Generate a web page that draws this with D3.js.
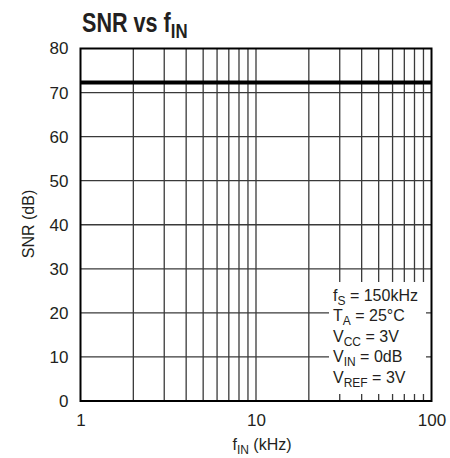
<!DOCTYPE html>
<html>
<head>
<meta charset="utf-8">
<script src="https://cdn.jsdelivr.net/npm/d3@7"></script>
<style>
  html, body { margin: 0; padding: 0; background: #fff; }
  svg { display: block; }
  text { font-family: "Liberation Sans", Arial, sans-serif; fill: #231f20; }
</style>
</head>
<body>
<svg id="chart" width="450" height="458"></svg>
<script>
// ---- data ----
const fIn = [1, 100];              // kHz
const snr = [72.3, 72.3];          // dB
const xTickValues = [1, 10, 100];
const xTickLabels = ["1", "10", "100"];
const yTickValues = [0, 10, 20, 30, 40, 50, 60, 70, 80];
const xMinorGrid = [2, 3, 4, 5, 6, 7, 8, 9, 20, 30, 40, 50, 60, 70, 80, 90];
const notes = [
  [["f", ""], ["S", "sub"], [" = 150kHz", ""]],
  [["T", ""], ["A", "sub"], [" = 25°C", ""]],
  [["V", ""], ["CC", "sub"], [" = 3V", ""]],
  [["V", ""], ["IN", "sub"], [" = 0dB", ""]],
  [["V", ""], ["REF", "sub"], [" = 3V", ""]]
];

// ---- layout ----
const svg = d3.select("#chart");
const m = { left: 80.5, right: 431.5, top: 48.5, bottom: 401 };
const x = d3.scaleLog().domain([1, 100]).range([m.left, m.right]);
const y = d3.scaleLinear().domain([0, 80]).range([m.bottom, m.top]);

// gridlines
const grid = svg.append("g");
grid.selectAll("line.v").data(xMinorGrid.concat([10])).enter().append("line")
  .attr("x1", d => x(d)).attr("x2", d => x(d))
  .attr("y1", m.top).attr("y2", m.bottom)
  .attr("stroke", "#3a3a3a").attr("stroke-width", 1.3);
grid.selectAll("line.h").data(yTickValues.slice(1, -1)).enter().append("line")
  .attr("x1", m.left).attr("x2", m.right)
  .attr("y1", d => y(d)).attr("y2", d => y(d))
  .attr("stroke", "#3a3a3a").attr("stroke-width", 1.3);

// data line
svg.append("path")
  .datum(fIn.map((f, i) => [f, snr[i]]))
  .attr("d", d3.line().x(d => x(d[0])).y(d => y(d[1])))
  .attr("fill", "none").attr("stroke", "#000").attr("stroke-width", 4);

// annotation box
svg.append("rect")
  .attr("x", 329).attr("y", 282).attr("width", 97).attr("height", 112)
  .attr("fill", "#fff");
const noteG = svg.append("g");
notes.forEach((parts, i) => {
  const t = noteG.append("text")
    .attr("x", 333).attr("y", 300.5 + i * 20.5)
    .attr("font-size", 16);
  parts.forEach(([s, kind], j) => {
    const ts = t.append("tspan").text(s);
    if (kind === "sub") ts.attr("dy", 4).attr("font-size", 12);
    else if (j > 0 && parts[j - 1][1] === "sub") ts.attr("dy", -4);
  });
});

// frame
svg.append("rect")
  .attr("x", m.left).attr("y", m.top)
  .attr("width", m.right - m.left).attr("height", m.bottom - m.top)
  .attr("fill", "none").attr("stroke", "#000").attr("stroke-width", 2);

// axes
const xAxis = d3.axisBottom(x).tickValues(xTickValues)
  .tickFormat((d, i) => xTickLabels[i]).tickSize(0).tickPadding(13);
const gx = svg.append("g").attr("transform", `translate(0,${m.bottom})`).call(xAxis);
gx.select(".domain").remove();
gx.selectAll("text").attr("font-size", 17).attr("font-family", null).attr("fill", "#231f20");

const yAxis = d3.axisLeft(y).tickValues(yTickValues).tickSize(0).tickPadding(12);
const gy = svg.append("g").attr("transform", `translate(${m.left},0)`).call(yAxis);
gy.select(".domain").remove();
gy.selectAll("text").attr("font-size", 17).attr("font-family", null).attr("fill", "#231f20");

// title (condensed bold)
const title = svg.append("text")
  .attr("transform", "translate(82,32) scale(0.8,1)")
  .attr("font-weight", "bold").attr("font-size", 27);
title.append("tspan").text("SNR vs f");
title.append("tspan").text("IN").attr("dy", 6).attr("font-size", 21);

// axis titles
const xl = svg.append("text").attr("x", 262).attr("y", 450)
  .attr("text-anchor", "middle").attr("font-size", 16);
xl.append("tspan").text("f");
xl.append("tspan").text("IN").attr("dy", 4).attr("font-size", 12);
xl.append("tspan").text(" (kHz)").attr("dy", -4);

svg.append("text")
  .attr("transform", "translate(34,224) rotate(-90)")
  .attr("text-anchor", "middle").attr("font-size", 16)
  .text("SNR (dB)");
</script>
</body>
</html>
